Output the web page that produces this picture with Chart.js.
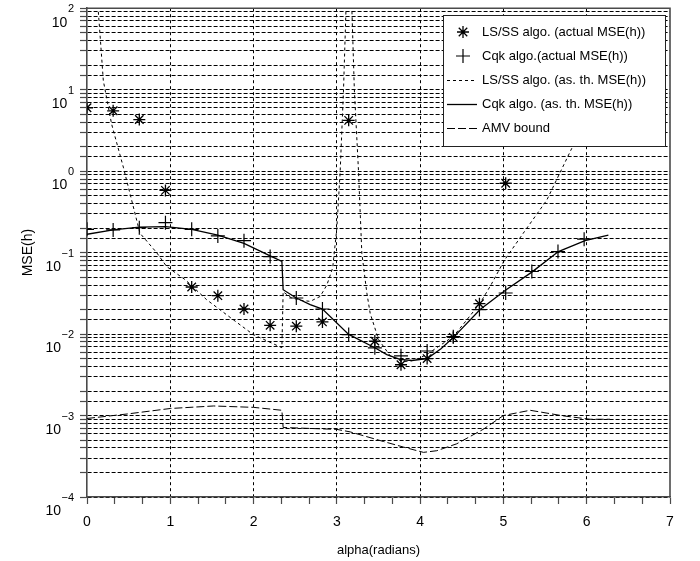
<!DOCTYPE html>
<html>
<head>
<meta charset="utf-8">
<script src="https://cdn.jsdelivr.net/npm/chart.js@4.4.0/dist/chart.umd.min.js"></script>
<style>
  html, body { margin: 0; padding: 0; background: #fff; }
  canvas { display: block; }
</style>
</head>
<body>
<canvas id="mseChart" width="700" height="561"></canvas>
<script>
// Simulated points, taken at alpha = k*pi/10
const alphaPoints = [0, 0.314, 0.628, 0.942, 1.257, 1.571, 1.885, 2.199, 2.513, 2.827,
                     3.142, 3.456, 3.770, 4.084, 4.398, 4.712, 5.027, 5.341, 5.655, 5.969];
const lsActual = [6.0, 5.5, 4.3, 0.58, 0.0378, 0.0296, 0.0203, 0.0128, 0.0125, 0.0141,
                  4.2, 0.0082, 0.0042, 0.0050, 0.0091, 0.0236, 0.71, null, null, null];
const cqActual = [0.193, 0.19, 0.202, 0.233, 0.193, 0.16, 0.14, 0.0893, 0.0277, 0.0203,
                  0.00986, 0.00678, 0.0054, 0.0062, 0.0093, 0.0200, 0.0319, 0.0586, 0.103, 0.146];

// LS/SS asymptotic theoretical MSE (null = curve leaves the plot between branches)
const lsTheoryX = [0.12, 0.156, 0.196, 0.295, 0.436, 0.636, 0.836, 0.956, 1.18, 1.437, 1.756, 1.996, 2.34,
                   2.355, 2.45, 2.56, 2.68, 2.8, 2.88, 2.95, 3.0, 3.04, 3.08, 3.11, 3.125, 3.145,
                   3.165, 3.18, 3.21, 3.26, 3.30, 3.36, 3.40, 3.5, 3.64, 3.72, 3.8, 3.9, 4.0, 4.1, 4.2,
                   4.4, 4.55, 4.72, 4.85, 5.01, 5.25, 5.52, 5.82, 6.05];
const lsTheoryY = [150, 48, 12.9, 3.8, 1.12, 0.173, 0.1, 0.0675, 0.0464, 0.0264, 0.015, 0.00986, 0.0068,
                   0.033, 0.028, 0.026, 0.0252, 0.029, 0.04, 0.065, 0.2, 1.0, 10, 100, 300, null,
                   300, 100, 10, 1.0, 0.098, 0.032, 0.018, 0.0086, 0.0054, 0.0049, 0.0046, 0.0047, 0.0051, 0.0058, 0.0068,
                   0.0094, 0.0145, 0.024, 0.04, 0.08, 0.18, 0.44, 1.9, 8];

// Cqk asymptotic theoretical MSE
const cqTheoryX = [0, 0.314, 0.628, 0.942, 1.257, 1.571, 1.885, 2.199, 2.34, 2.355, 2.513, 2.68, 2.827,
                   3.142, 3.456, 3.6, 3.757, 3.9, 4.085, 4.25, 4.4, 4.72, 5.02, 5.345, 5.66, 5.98, 6.26];
const cqTheoryY = [0.168, 0.19, 0.205, 0.208, 0.193, 0.164, 0.13, 0.0912, 0.0777, 0.035, 0.0277, 0.023, 0.0203,
                   0.0099, 0.0068, 0.0056, 0.0049, 0.00474, 0.0050, 0.0066, 0.0091, 0.020, 0.0343, 0.058, 0.103, 0.14, 0.164];

// AMV bound
const amvX = [0, 0.5, 1.0, 1.52, 2.0, 2.34, 2.355, 3.0, 3.16, 3.56, 3.8, 4.04, 4.2, 4.44, 4.76,
              5.0, 5.32, 5.72, 6.04, 6.28];
const amvY = [0.00092, 0.00105, 0.00122, 0.00131, 0.00126, 0.00116, 0.000713, 0.000676, 0.00063, 0.00048,
              0.00041, 0.000353, 0.00037, 0.00045, 0.00068, 0.0010, 0.00116, 0.00099, 0.0009, 0.0009];

const seriesLabels = [
    'LS/SS algo. (actual MSE(h))',
    'Cqk algo.(actual MSE(h))',
    'LS/SS algo. (as. th. MSE(h))',
    'Cqk algo. (as. th. MSE(h))',
    'AMV bound'
];

// axis ticks
const xTickLabels = [0, 1, 2, 3, 4, 5, 6, 7];
const xMinorStep = 1 / 3;
const yDecades = [-4, -3, -2, -1, 0, 1, 2];

const FONT = '"Liberation Sans", Arial, Helvetica, sans-serif';
const AXIS_COLOR = '#4a4a4a';

function toPoints(xs, ys) {
    return xs.map((x, i) => ({ x: x, y: ys[i] }));
}

// draws a marker by hand for the legend
function drawMarker(ctx, style, cx, cy, r) {
    ctx.beginPath();
    ctx.moveTo(cx, cy - r); ctx.lineTo(cx, cy + r);
    ctx.moveTo(cx - r, cy); ctx.lineTo(cx + r, cy);
    if (style === 'star') {
        const d = r * Math.SQRT1_2;
        ctx.moveTo(cx - d, cy - d); ctx.lineTo(cx + d, cy + d);
        ctx.moveTo(cx - d, cy + d); ctx.lineTo(cx + d, cy - d);
    }
    ctx.stroke();
}

const decorations = {
    id: 'decorations',
    afterDraw(chart) {
        const ctx = chart.ctx;
        const area = chart.chartArea;
        const xs = chart.scales.x;
        const ys = chart.scales.y;

        ctx.save();
        // top and right edges of the box
        ctx.strokeStyle = AXIS_COLOR;
        ctx.lineWidth = 1.6;
        ctx.beginPath();
        ctx.moveTo(area.left, area.top);
        ctx.lineTo(area.right, area.top);
        ctx.lineTo(area.right, area.bottom);
        ctx.stroke();

        ctx.fillStyle = '#000';
        // x tick labels
        ctx.font = '14px ' + FONT;
        ctx.textAlign = 'center';
        ctx.textBaseline = 'middle';
        xTickLabels.forEach(v => {
            ctx.fillText(String(v), xs.getPixelForValue(v), 522);
        });

        // y tick labels as 10 with a raised exponent
        yDecades.forEach(e => {
            const py = ys.getPixelForValue(Math.pow(10, e));
            const expText = e < 0 ? '\u2212' + (-e) : String(e);
            ctx.font = '11px ' + FONT;
            ctx.textAlign = 'right';
            ctx.textBaseline = 'middle';
            ctx.fillText(expText, 74, py + 1);
            const w = ctx.measureText(expText).width;
            ctx.font = '14px ' + FONT;
            ctx.fillText('10', 74 - w - 0.5, py + 14.5);
        });

        // axis titles
        ctx.font = '13px ' + FONT;
        ctx.textAlign = 'center';
        ctx.fillText('alpha(radians)', (area.left + area.right) / 2, 550);
        ctx.save();
        ctx.translate(28, (area.top + area.bottom) / 2);
        ctx.rotate(-Math.PI / 2);
        ctx.font = '14px ' + FONT;
        ctx.fillText('MSE(h)', 0, 0);
        ctx.restore();

        // legend box
        const bx = 443, by = 15, bw = 222, bh = 131;
        ctx.fillStyle = '#fff';
        ctx.fillRect(bx, by, bw, bh);
        ctx.strokeStyle = '#222';
        ctx.lineWidth = 1;
        ctx.strokeRect(bx + 0.5, by + 0.5, bw, bh);

        chart.data.datasets.forEach((ds, i) => {
            const cy = 32 + i * 24;
            ctx.strokeStyle = '#000';
            ctx.lineWidth = ds.borderWidth || 1;
            if (ds.showLine === false) {
                ctx.setLineDash([]);
                drawMarker(ctx, ds.pointStyle, 463, cy, ds.pointRadius);
            } else {
                ctx.setLineDash(ds.borderDash || []);
                ctx.beginPath();
                ctx.moveTo(447, cy + 0.5);
                ctx.lineTo(477, cy + 0.5);
                ctx.stroke();
                ctx.setLineDash([]);
            }
            ctx.fillStyle = '#000';
            ctx.font = '13px ' + FONT;
            ctx.textAlign = 'left';
            ctx.textBaseline = 'middle';
            ctx.fillText(ds.label, 482, cy);
        });
        ctx.restore();
    }
};

const ctx = document.getElementById('mseChart').getContext('2d');

const mseChart = new Chart(ctx, {
    type: 'line',
    data: {
        datasets: [
            {
                label: seriesLabels[0],
                data: toPoints(alphaPoints, lsActual),
                showLine: false,
                pointStyle: 'star',
                pointRadius: 6,
                borderColor: '#000',
                backgroundColor: 'transparent',
                borderWidth: 1.3,
                clip: 0
            },
            {
                label: seriesLabels[1],
                data: toPoints(alphaPoints, cqActual),
                showLine: false,
                pointStyle: 'cross',
                pointRadius: 7,
                borderColor: '#000',
                backgroundColor: 'transparent',
                borderWidth: 1.2,
                clip: 0
            },
            {
                label: seriesLabels[2],
                data: toPoints(lsTheoryX, lsTheoryY),
                borderColor: '#000',
                borderWidth: 1,
                borderDash: [3, 3],
                pointRadius: 0,
                spanGaps: false,
                tension: 0,
                clip: 0
            },
            {
                label: seriesLabels[3],
                data: toPoints(cqTheoryX, cqTheoryY),
                borderColor: '#000',
                borderWidth: 1.3,
                pointRadius: 0,
                tension: 0,
                clip: 0
            },
            {
                label: seriesLabels[4],
                data: toPoints(amvX, amvY),
                borderColor: '#000',
                borderWidth: 1,
                borderDash: [8, 3],
                pointRadius: 0,
                tension: 0,
                clip: 0
            }
        ]
    },
    options: {
        responsive: false,
        animation: false,
        events: [],
        layout: { padding: { left: 80, right: 30, top: 7, bottom: 57 } },
        plugins: {
            legend: { display: false },
            tooltip: { enabled: false }
        },
        scales: {
            x: {
                type: 'linear',
                min: 0,
                max: 7,
                afterBuildTicks: function(scale) {
                    const ticks = [];
                    for (let i = 0; i <= 21; i++) ticks.push({ value: i * xMinorStep });
                    scale.ticks = ticks;
                },
                afterFit: function(scale) { scale.height = 7; },
                ticks: { display: false },
                grid: {
                    color: function(c) {
                        const v = c.tick ? c.tick.value : 0;
                        const isMajor = Math.abs(v - Math.round(v)) < 1e-6;
                        return (isMajor && v > 0.5 && v < 6.5) ? '#000' : 'rgba(0,0,0,0)';
                    },
                    tickColor: AXIS_COLOR,
                    lineWidth: 1,
                    tickLength: 7,
                    tickWidth: 1.2
                },
                border: { display: true, color: AXIS_COLOR, width: 1.6, dash: [3, 3] }
            },
            y: {
                type: 'logarithmic',
                min: 1e-4,
                max: 1e2,
                afterFit: function(scale) { scale.width = 7; },
                ticks: { display: false },
                grid: {
                    color: '#000',
                    tickColor: AXIS_COLOR,
                    lineWidth: 1,
                    tickLength: 7,
                    tickWidth: 1.2
                },
                border: { display: true, color: AXIS_COLOR, width: 1.6, dash: [4, 2] }
            }
        }
    },
    plugins: [decorations]
});
</script>
</body>
</html>
